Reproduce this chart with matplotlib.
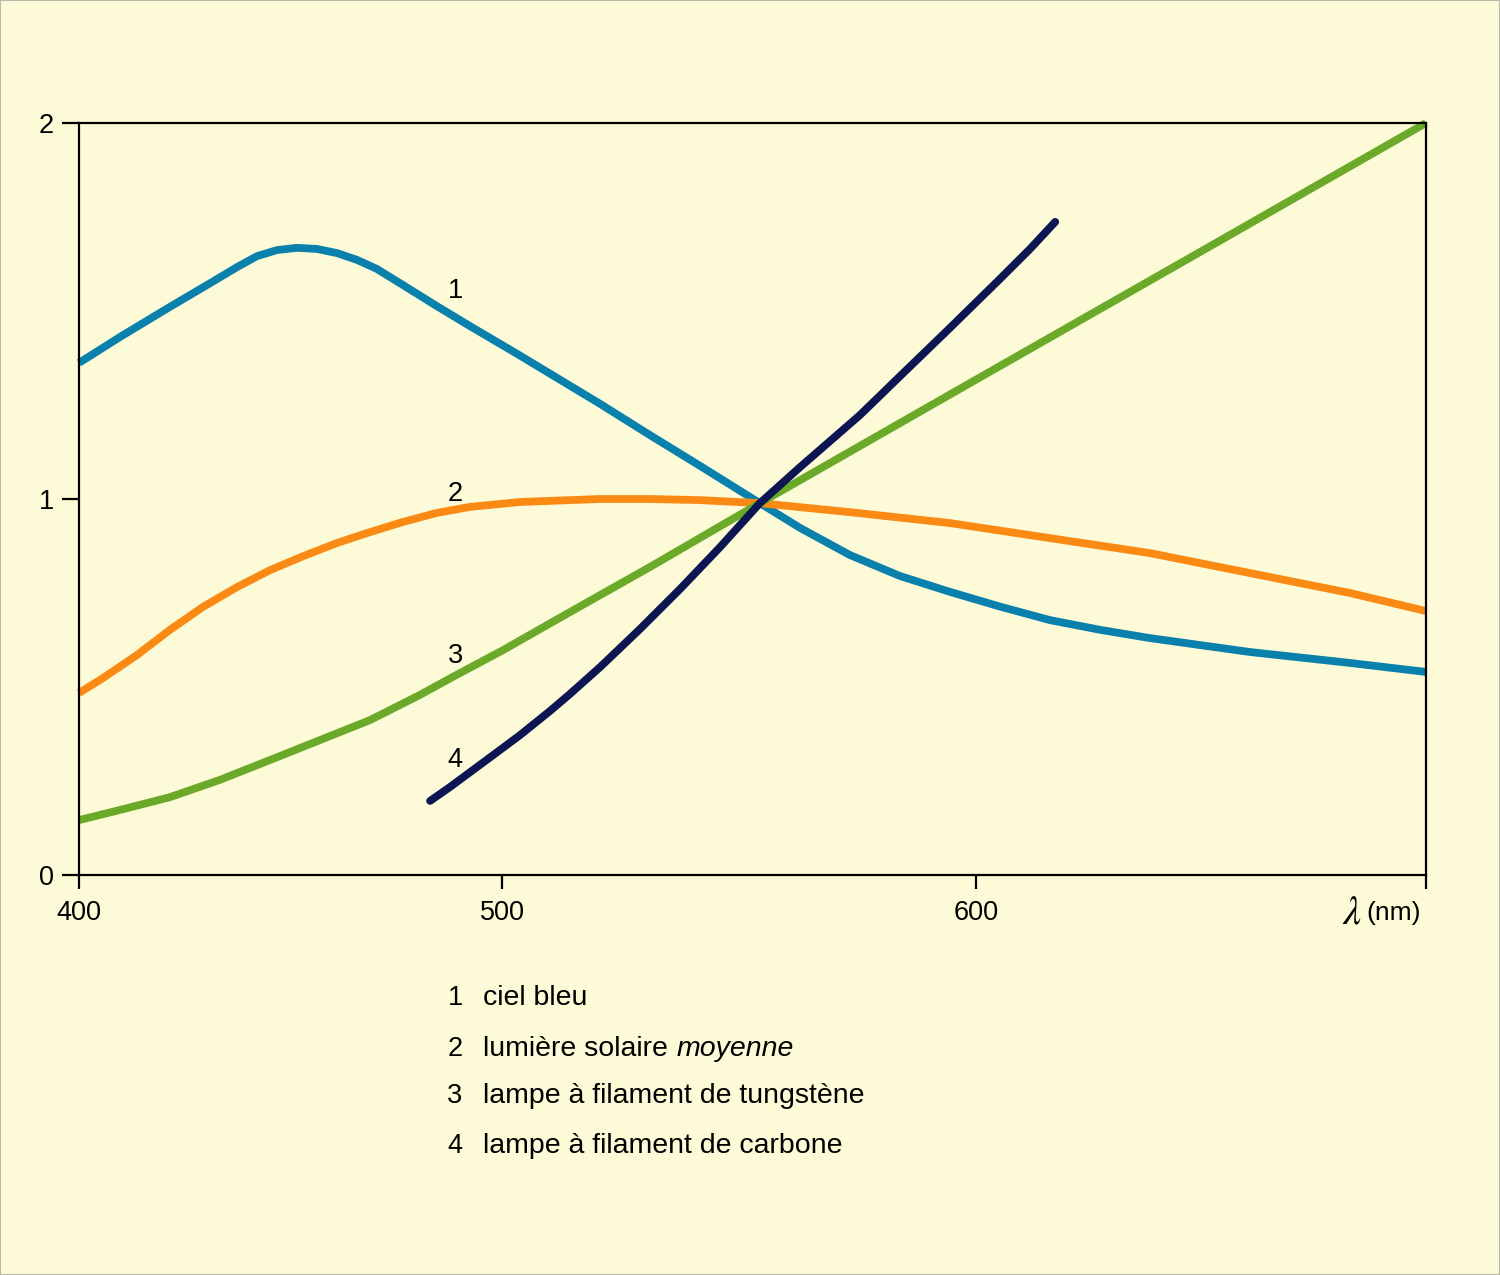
import numpy as np
import matplotlib
matplotlib.use('Agg')
import matplotlib.pyplot as plt
from matplotlib.patches import Rectangle

# curve 1 : ciel bleu
wl_1 = [400, 409.7, 421.5, 431.0, 437.4, 442.1, 446.8, 451.5, 456.3, 461.0, 465.7,
        470.4, 476.6, 484.6, 492.4, 503.2, 520.7, 531.2, 541.8, 554.4, 562.9, 573.4,
        584.0, 594.5, 605.3, 616.4, 627.6, 638.7, 660.9, 683.1, 700]
val_1 = [1.362, 1.431, 1.511, 1.574, 1.617, 1.646, 1.662, 1.668, 1.665, 1.654, 1.636,
         1.612, 1.569, 1.513, 1.460, 1.386, 1.253, 1.170, 1.088, 0.989, 0.923, 0.851,
         0.795, 0.753, 0.714, 0.678, 0.652, 0.630, 0.593, 0.564, 0.540]

# curve 2 : lumiere solaire moyenne
wl_2 = [400, 405.7, 413.7, 421.5, 429.3, 437.4, 445.2, 453.0, 461.0, 468.8, 476.6,
        484.6, 492.4, 503.8, 514.3, 520.7, 531.2, 541.8, 554.4, 573.4, 594.5, 616.4,
        638.7, 660.9, 683.1, 700]
val_2 = [0.484, 0.524, 0.585, 0.652, 0.713, 0.766, 0.811, 0.848, 0.883, 0.912, 0.939,
         0.963, 0.979, 0.992, 0.997, 1.0, 1.0, 0.997, 0.989, 0.965, 0.936, 0.896,
         0.856, 0.803, 0.750, 0.702]

# curve 3 : tungstene
wl_3 = [400, 409.7, 421.5, 433.3, 445.2, 457.0, 468.8, 480.6, 488.4, 500.2, 514.3,
        531.2, 554.4, 599.8, 649.8, 700]
val_3 = [0.146, 0.173, 0.207, 0.253, 0.306, 0.359, 0.412, 0.479, 0.527, 0.598, 0.699,
         0.819, 0.989, 1.316, 1.657, 2.0]

# curve 4 : carbone
wl_4 = [483.0, 487.7, 494.8, 503.8, 510.1, 514.3, 520.7, 529.1, 537.6, 546.0, 554.4,
        562.9, 569.2, 575.5, 584.0, 594.5, 605.3, 612.0, 617.6]
val_4 = [0.197, 0.234, 0.293, 0.372, 0.436, 0.481, 0.553, 0.654, 0.761, 0.872, 0.989,
         1.085, 1.154, 1.223, 1.327, 1.455, 1.585, 1.665, 1.737]

curve_labels = ['1', '2', '3', '4']
label_wl = 488.9
label_val = [1.553, 1.013, 0.582, 0.306]

legend_text = ['ciel bleu', 'lumière solaire', 'lampe à filament de tungstène',
               'lampe à filament de carbone']

x_ticks = [400, 500, 600, 700]
x_ticklabels = ['400', '500', '600', '']
y_ticks = [0, 1, 2]

# the drawing's wavelength axis is not evenly spaced
scale_wl = [400, 500, 600, 700]
scale_pos = [0, 423, 897, 1347]


def fwd(x):
    return np.interp(x, scale_wl, scale_pos)


def inv(x):
    return np.interp(x, scale_pos, scale_wl)


bg = '#fdfbd7'
plt.rcParams['font.family'] = ['Liberation Sans', 'DejaVu Sans']

fig = plt.figure(figsize=(15, 12.75), dpi=100, facecolor=bg)
ax = fig.add_axes([79 / 1500, 1 - 875 / 1275, 1347 / 1500, 752 / 1275])
ax.set_facecolor(bg)
ax.set_xscale('function', functions=(fwd, inv))
ax.set_xlim(400, 700)
ax.set_ylim(0, 2)

lw = 5.6
ax.plot(wl_1, val_1, color='#0a80ad', lw=lw, solid_capstyle='butt', solid_joinstyle='round', clip_on=False)
ax.plot(wl_2, val_2, color='#fb8a14', lw=lw, solid_capstyle='butt', solid_joinstyle='round', clip_on=False)
ax.plot(wl_3, val_3, color='#6aaa28', lw=lw, solid_capstyle='butt', solid_joinstyle='round', clip_on=False)
ax.plot(wl_4, val_4, color='#0d1652', lw=lw, solid_capstyle='round', solid_joinstyle='round', clip_on=False)

for lab, v in zip(curve_labels, label_val):
    ax.text(label_wl, v, lab, fontsize=19.5, ha='center', va='center')

for s in ax.spines.values():
    s.set_linewidth(1.6)
ax.set_xticks(x_ticks)
ax.set_xticklabels(x_ticklabels)
ax.set_yticks(y_ticks)
ax.minorticks_off()
ax.tick_params(axis='x', direction='out', length=10, width=1.6, pad=8, labelsize=19.5)
ax.tick_params(axis='y', direction='out', length=12, width=1.6, pad=6, labelsize=19.5)

fig.text(1421 / 1500, 1 - 913 / 1275, '(nm)', fontsize=19, ha='right', va='center')
fig.text(1362 / 1500, 1 - 912 / 1275, r'$\lambda$', fontsize=29, ha='right', va='center',
         math_fontfamily='stix')

# legend below the chart
rows_y = [998, 1049, 1096, 1146]
for i, (lab, txt) in enumerate(zip(curve_labels, legend_text)):
    y = 1 - rows_y[i] / 1275
    fig.text(455 / 1500, y, lab, fontsize=19.5, ha='center', va='center')
    t = fig.text(483 / 1500, y, txt, fontsize=20.5, ha='left', va='center')
    if i == 1:
        fig.canvas.draw()
        bb = t.get_window_extent()
        fig.text((bb.x1 + 9) / 1500, y, 'moyenne', fontsize=20.5, ha='left', va='center', style='italic')

fig.add_artist(Rectangle((0, 0), 1, 1, transform=fig.transFigure, fill=False,
                         edgecolor='#b8b8a8', lw=1.5))

fig.savefig('out.png', dpi=100, facecolor=bg)
